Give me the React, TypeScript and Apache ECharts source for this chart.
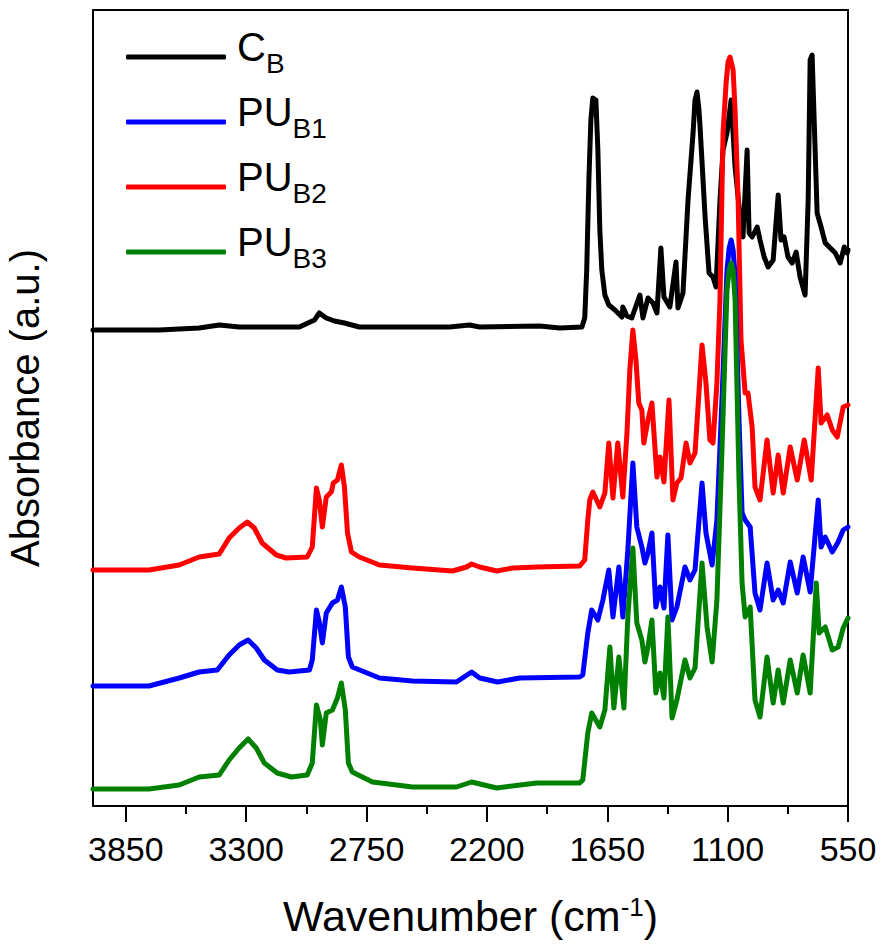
import React, { useEffect, useRef } from "react";
import * as echarts from "echarts";

// Wavenumber (cm-1) vs absorbance (a.u., stacked/offset as plotted)
const cbSpectrum: number[][] = [
  [4000, 2.38], [3698, 2.38], [3515, 2.39], [3423, 2.405], [3332, 2.395], [3057, 2.395],
  [2988, 2.43], [2966, 2.465], [2934, 2.44], [2897, 2.425], [2851, 2.415], [2783, 2.395],
  [2371, 2.395], [2279, 2.405], [2233, 2.395], [1959, 2.4], [1867, 2.39], [1766, 2.395],
  [1753, 2.44], [1744, 2.68], [1734, 3.13], [1725, 3.43], [1716, 3.54], [1702, 3.53],
  [1693, 3.28], [1684, 2.88], [1675, 2.68], [1661, 2.555], [1643, 2.505],
  [1615, 2.48], [1583, 2.445], [1579, 2.495], [1560, 2.45], [1538, 2.44],
  [1501, 2.555], [1487, 2.44], [1464, 2.54], [1441, 2.515], [1423, 2.465], [1405, 2.79],
  [1391, 2.545], [1364, 2.495], [1336, 2.72], [1327, 2.49], [1304, 2.565], [1281, 3.03],
  [1258, 3.365], [1249, 3.53], [1240, 3.57], [1231, 3.48], [1226, 3.395], [1203, 2.945],
  [1185, 2.665], [1167, 2.645],
  [1153, 2.595], [1135, 3.03], [1121, 3.28], [1103, 3.365], [1084, 3.53], [1066, 3.195],
  [1043, 2.945], [1030, 2.845], [1011, 3.28], [1002, 2.865], [988, 2.845], [965, 2.895],
  [952, 2.83], [933, 2.745], [915, 2.695], [892, 2.73], [869, 3.055], [856, 2.83],
  [842, 2.845], [824, 2.745], [805, 2.715], [787, 2.77], [769, 2.645], [746, 2.555],
  [732, 3.03], [723, 3.73], [714, 3.755], [705, 3.445], [691, 2.965], [673, 2.895],
  [654, 2.815], [631, 2.79], [608, 2.765], [586, 2.715], [567, 2.795], [554, 2.765],
  [550, 2.78],
];

const pub1Spectrum: number[][] = [
  [4000, 0.6], [3744, 0.6], [3606, 0.64], [3515, 0.67], [3432, 0.68], [3378, 0.755],
  [3332, 0.805], [3291, 0.83], [3254, 0.79], [3217, 0.73], [3158, 0.68], [3103, 0.67],
  [3011, 0.68], [2998, 0.73], [2979, 0.98], [2966, 0.92], [2952, 0.815], [2934, 0.965],
  [2906, 1.015], [2883, 1.03], [2865, 1.095], [2847, 0.995], [2833, 0.745], [2815, 0.695],
  [2691, 0.64], [2540, 0.625], [2339, 0.62], [2270, 0.67], [2233, 0.64], [2151, 0.62],
  [2050, 0.64], [1776, 0.645], [1762, 0.655], [1739, 0.865], [1721, 0.98], [1693, 0.93],
  [1670, 1.03], [1643, 1.18], [1624, 0.945], [1597, 1.195], [1579, 0.945], [1556, 1.28],
  [1533, 1.715], [1515, 1.395], [1492, 1.295], [1478, 1.215], [1464, 1.265], [1446, 1.365],
  [1428, 0.995], [1409, 1.095], [1391, 0.99], [1373, 1.355], [1354, 0.93], [1332, 0.995],
  [1295, 1.195], [1272, 1.13], [1249, 1.18], [1217, 1.615], [1199, 1.365], [1171, 1.205],
  [1149, 1.43], [1126, 2.03], [1103, 2.68], [1093, 2.79], [1084, 2.83], [1075, 2.78],
  [1066, 2.655], [1048, 1.93],
  [1034, 1.465], [1020, 1.43], [997, 1.395], [975, 1.065], [952, 0.98], [920, 1.215],
  [892, 1.03], [869, 1.08], [846, 1.015], [814, 1.22], [782, 1.065], [755, 1.245],
  [723, 1.07], [686, 1.53], [673, 1.295], [654, 1.345], [622, 1.27], [595, 1.32],
  [572, 1.38], [550, 1.395],
];

const pub2Spectrum: number[][] = [
  [4000, 1.18], [3744, 1.18], [3606, 1.205], [3515, 1.245], [3423, 1.26], [3378, 1.34],
  [3332, 1.39], [3295, 1.42], [3263, 1.39], [3227, 1.315], [3162, 1.255], [3117, 1.24],
  [3021, 1.245], [2998, 1.295], [2979, 1.59], [2966, 1.53], [2952, 1.395], [2934, 1.545],
  [2911, 1.57], [2902, 1.615], [2883, 1.63], [2865, 1.705], [2851, 1.595], [2837, 1.365],
  [2819, 1.27], [2783, 1.245], [2691, 1.205], [2540, 1.19], [2357, 1.175], [2293, 1.195],
  [2270, 1.21], [2233, 1.195], [2155, 1.175], [2082, 1.19], [1972, 1.195], [1776, 1.2],
  [1753, 1.23], [1739, 1.43], [1730, 1.53], [1716, 1.57], [1684, 1.495], [1661, 1.565],
  [1643, 1.815], [1624, 1.54], [1602, 1.815], [1579, 1.545], [1560, 1.865], [1547, 2.18],
  [1533, 2.38], [1519, 2.23], [1506, 2.015], [1492, 1.98], [1483, 1.815], [1464, 1.93],
  [1446, 2.015], [1423, 1.645], [1409, 1.745], [1391, 1.62], [1368, 2.03], [1350, 1.53],
  [1332, 1.615], [1313, 1.64], [1290, 1.815], [1272, 1.715], [1249, 1.765], [1217, 2.305],
  [1199, 2.115], [1181, 1.83], [1167, 1.815], [1149, 2.115], [1135, 2.53], [1121, 3.365],
  [1107, 3.615], [1098, 3.72], [1089, 3.745], [1075, 3.68], [1066, 3.48], [1052, 3.03],
  [1039, 2.33], [1020, 2.065], [1007, 2.065],
  [988, 1.895], [975, 1.595], [952, 1.53], [920, 1.83], [892, 1.565], [869, 1.755],
  [846, 1.565], [814, 1.795], [782, 1.63], [750, 1.83], [718, 1.63], [686, 2.19],
  [673, 1.915], [645, 1.955], [622, 1.88], [599, 1.845], [572, 1.995], [550, 2.005],
];

const pub3Spectrum: number[][] = [
  [4000, 0.085], [3744, 0.085], [3606, 0.105], [3515, 0.145], [3423, 0.155], [3378, 0.23],
  [3332, 0.29], [3291, 0.335], [3254, 0.29], [3217, 0.215], [3158, 0.165], [3094, 0.145],
  [3021, 0.155], [2998, 0.215], [2979, 0.505], [2961, 0.43], [2952, 0.305], [2934, 0.465],
  [2906, 0.48], [2883, 0.54], [2865, 0.615], [2847, 0.48], [2833, 0.215], [2815, 0.17],
  [2723, 0.12], [2540, 0.095], [2339, 0.095], [2270, 0.12], [2155, 0.09], [1972, 0.115],
  [1776, 0.115], [1762, 0.13], [1739, 0.365], [1721, 0.465], [1684, 0.395], [1661, 0.48],
  [1638, 0.795], [1620, 0.49], [1597, 0.745], [1574, 0.49], [1556, 0.945], [1533, 1.29],
  [1515, 0.915], [1492, 0.83], [1478, 0.72], [1464, 0.795], [1446, 0.93], [1428, 0.565],
  [1409, 0.665], [1391, 0.54], [1373, 0.945], [1354, 0.44], [1332, 0.53], [1295, 0.73],
  [1272, 0.64], [1249, 0.69], [1217, 1.215], [1194, 0.895], [1171, 0.72], [1149, 1.03],
  [1126, 1.78], [1103, 2.58], [1093, 2.68], [1084, 2.715], [1075, 2.68], [1066, 2.53],
  [1048, 1.63], [1034, 1.115],
  [1020, 0.945], [997, 0.995], [975, 0.53], [952, 0.445], [920, 0.745], [892, 0.515],
  [869, 0.68], [846, 0.515], [814, 0.73], [782, 0.565], [755, 0.755], [723, 0.565],
  [695, 1.115], [682, 0.865], [654, 0.895], [622, 0.78], [595, 0.795], [572, 0.89],
  [550, 0.94],
];

const seriesNames = ["CB", "PUB1", "PUB2", "PUB3"];
const legendMain = ["C", "PU", "PU", "PU"];
const legendSub = ["B", "B1", "B2", "B3"];
const seriesColors = ["#000000", "#0000ff", "#ff0000", "#008000"];
const seriesZ = [2, 4, 3, 5];
const spectra = [cbSpectrum, pub1Spectrum, pub2Spectrum, pub3Spectrum];

const majorTicks = [550, 1100, 1650, 2200, 2750, 3300, 3850];
const minorTicks = [825, 1375, 1925, 2475, 3025, 3575];

const FONT = "'Liberation Sans', Arial, sans-serif";

export default function App() {
  const ref = useRef<HTMLDivElement>(null);

  useEffect(() => {
    if (!ref.current) return;
    const chart = echarts.init(ref.current, null, { renderer: "svg" });

    const option = {
      animation: false,
      backgroundColor: "#ffffff",
      grid: {
        left: 93,
        right: 34,
        top: 10,
        bottom: 141,
        show: true,
        borderColor: "#000",
        borderWidth: 2,
        backgroundColor: "transparent",
        containLabel: false,
        outerBoundsMode: "none",
      },
      legend: {
        data: seriesNames,
        orient: "vertical",
        left: 126,
        top: 12,
        padding: 0,
        itemGap: 0,
        itemWidth: 100,
        itemHeight: 5,
        icon: "roundRect",
        selectedMode: false,
        formatter: (name: string) => {
          const i = seriesNames.indexOf(name);
          return `{m|${legendMain[i]}}{s|${legendSub[i]}}`;
        },
        textStyle: {
          color: "#000",
          fontFamily: FONT,
          rich: {
            m: {
              fontSize: 40,
              lineHeight: 40,
              fontFamily: FONT,
              color: "#000",
              verticalAlign: "bottom",
              padding: [15, 0, 10, 6],
            },
            s: {
              fontSize: 28,
              lineHeight: 28,
              fontFamily: FONT,
              color: "#000",
              verticalAlign: "bottom",
            },
          },
        },
      },
      xAxis: [
        {
          type: "value",
          min: 550,
          max: 4000,
          interval: 550,
          inverse: true,
          position: "bottom",
          splitLine: { show: false },
          axisLine: { show: true, lineStyle: { color: "#000", width: 2 } },
          axisTick: {
            show: true,
            customValues: majorTicks,
            length: 16,
            inside: false,
            lineStyle: { color: "#000", width: 2 },
          },
          axisLabel: {
            customValues: majorTicks,
            formatter: (v: number) => String(v),
            margin: 26,
            fontSize: 34,
            fontFamily: FONT,
            color: "#000",
          },
          name: "{a|Wavenumber (cm}{b|-1}{a|)}",
          nameLocation: "middle",
          nameGap: 88,
          nameTextStyle: {
            fontFamily: FONT,
            color: "#000",
            fontSize: 43,
            rich: {
              a: { fontSize: 43, lineHeight: 43, fontFamily: FONT, color: "#000", verticalAlign: "bottom" },
              b: {
                fontSize: 26,
                lineHeight: 26,
                fontFamily: FONT,
                color: "#000",
                verticalAlign: "top",
              },
            },
          },
        },
        {
          type: "value",
          min: 550,
          max: 4000,
          interval: 550,
          inverse: true,
          position: "bottom",
          gridIndex: 0,
          splitLine: { show: false },
          axisLine: { show: false },
          axisLabel: { show: false },
          axisTick: {
            show: true,
            customValues: minorTicks,
            length: 8,
            inside: false,
            lineStyle: { color: "#000", width: 2 },
          },
        },
      ],
      yAxis: {
        type: "value",
        min: 0,
        max: 3.98,
        splitLine: { show: false },
        axisLine: { show: true, lineStyle: { color: "#000", width: 2 } },
        axisTick: { show: false },
        axisLabel: { show: false },
        name: "Absorbance (a.u.)",
        nameLocation: "middle",
        nameRotate: 90,
        nameGap: 48,
        nameTextStyle: { fontFamily: FONT, fontSize: 40, color: "#000" },
      },
      series: spectra.map((data, i) => ({
        name: seriesNames[i],
        type: "line",
        xAxisIndex: 0,
        data,
        z: seriesZ[i],
        symbol: "none",
        showSymbol: false,
        smooth: false,
        itemStyle: { color: seriesColors[i] },
        lineStyle: { color: seriesColors[i], width: 5, join: "round", cap: "round" },
      })),
    };

    chart.setOption(option as any);
    return () => chart.dispose();
  }, []);

  return (
    <div
      ref={ref}
      style={{ position: "fixed", left: 0, top: 0, width: 882, height: 947, background: "#fff" }}
    />
  );
}
